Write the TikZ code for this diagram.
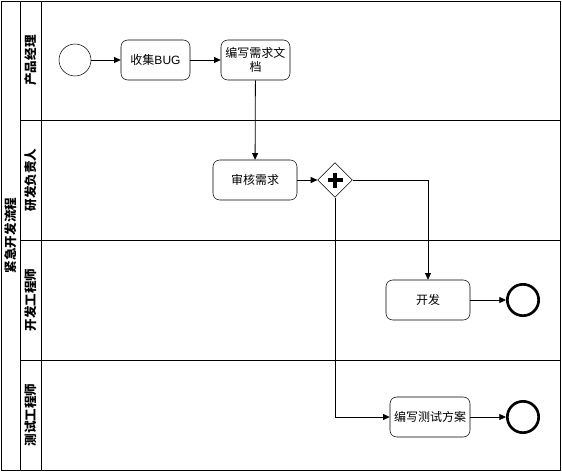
\documentclass[tikz,border=0pt]{standalone}
\usepackage{fontspec}
\setmainfont{Liberation Sans}
\newfontfamily\cjk{Noto Sans CJK SC}
\usetikzlibrary{shapes.geometric,arrows.meta}
\begin{document}
\begin{tikzpicture}[x=0.75pt,y=-0.75pt,
  font=\cjk\fontsize{9}{11}\selectfont,
  task/.style={draw, rounded corners=5pt, minimum width=51.75pt, minimum height=30pt, inner sep=1pt, align=center},
  startev/.style={draw, circle, minimum size=24pt, inner sep=0pt},
  endev/.style={draw, circle, line width=2pt, minimum size=23.5pt, inner sep=0pt},
  gate/.style={draw, diamond, minimum size=26pt, inner sep=0pt},
  flow/.style={-{Triangle[length=5pt,width=4.5pt]}, line width=0.6pt},
  lanelabel/.style={rotate=90, font=\cjk\bfseries\fontsize{9.4}{11}\selectfont},
  lane/.style={line width=0.6pt}
]
\useasboundingbox (0,0) rectangle (562,472);
% pool
\draw[lane] (1,1) rectangle (560,470);
\draw[lane] (20,1) -- (20,470);
\draw[lane] (41,1) -- (41,470);
\draw[lane] (20,120) -- (560,120);
\draw[lane] (20,240) -- (560,240);
\draw[lane] (20,360) -- (560,360);
\node[lanelabel] (pool) at (10.5,235.5) {紧急开发流程};
\node[lanelabel] (l1) at (30.5,60.5) {产品经理};
\node[lanelabel] (l2) at (30.5,180) {研发负责人};
\node[lanelabel] (l3) at (30.5,300) {开发工程师};
\node[lanelabel] (l4) at (30.5,415) {测试工程师};
% nodes
\node[startev] (s) at (75,60) {};
\node[task] (a) at (155.5,60) {收集{\fontspec{Liberation Sans}BUG}};
\node[task] (b) at (255.5,60) {编写需求文\\档};
\node[task, minimum width=63pt] (c) at (255,180) {审核需求};
\node[gate] (g) at (335,180) {};
\draw[line width=2.5pt] (g.center) ++(-7.5,0) -- ++(15,0);
\draw[line width=2.5pt] (g.center) ++(0,-7.5) -- ++(0,15);
\node[task, minimum width=63pt] (d) at (428,300) {开发};
\node[task, minimum width=60pt] (e) at (430,417) {编写测试方案};
\node[endev] (e1) at (523,300) {};
\node[endev] (e2) at (523,417) {};
% flows
\draw[flow] (s) -- (a);
\draw[flow] (a) -- (b);
\draw[flow] (b) -- (c);
\draw[flow] (c) -- (g);
\draw[flow] (g.east) -| (d.north);
\draw[flow] (g.south) |- (e.west);
\draw[flow] (d) -- (e1);
\draw[flow] (e) -- (e2);
\end{tikzpicture}
\end{document}
